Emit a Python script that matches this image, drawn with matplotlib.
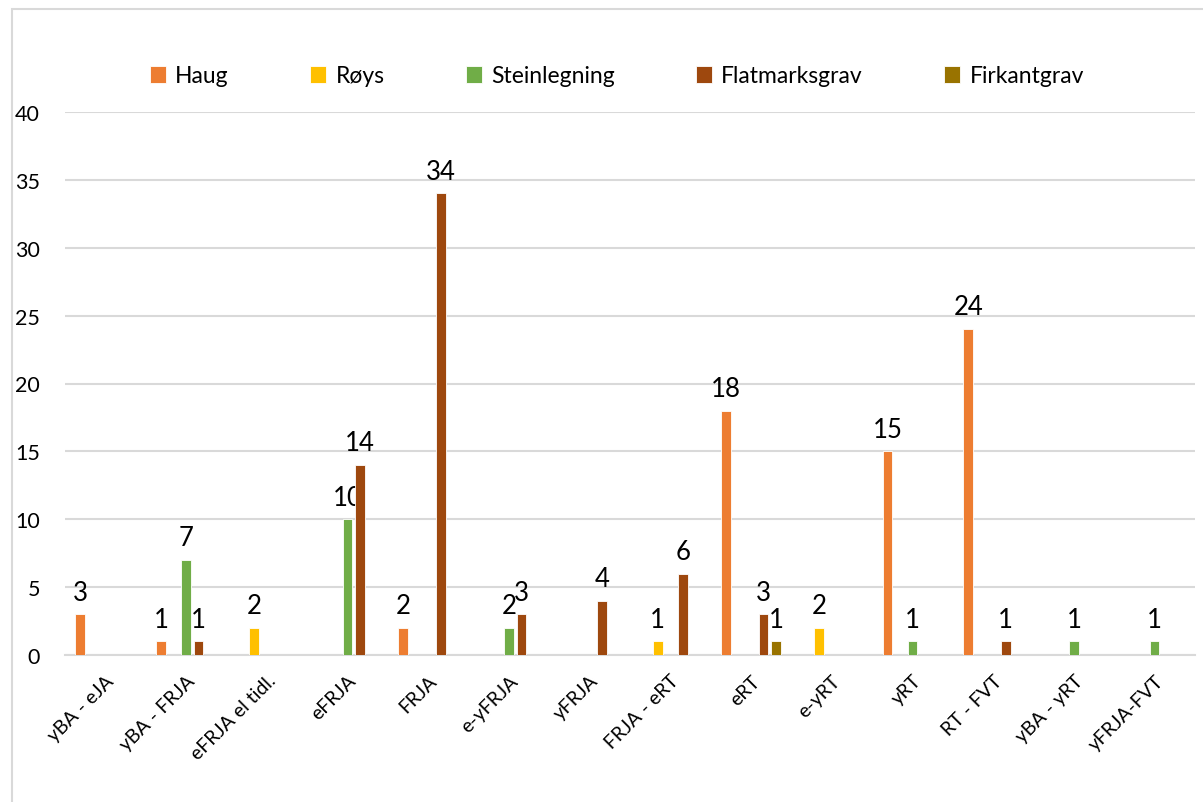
import matplotlib
matplotlib.use("Agg")
import matplotlib.pyplot as plt
import numpy as np
from matplotlib.patches import Rectangle

plt.rcParams['font.family'] = ['Lato', 'DejaVu Sans']

categories = ["yBA - eJA", "yBA - FRJA", "eFRJA el tidl.", "eFRJA", "FRJA", "e-yFRJA",
              "yFRJA", "FRJA - eRT", "eRT", "e-yRT", "yRT", "RT - FVT", "yBA - yRT", "yFRJA-FVT"]
series_names = ["Haug", "Røys", "Steinlegning", "Flatmarksgrav", "Firkantgrav"]
haug = [3, 1, None, None, 2, None, None, None, 18, None, 15, 24, None, None]
roys = [None, None, 2, None, None, None, None, 1, None, 2, None, None, None, None]
steinlegning = [None, 7, None, 10, None, 2, None, None, None, None, 1, None, 1, 1]
flatmarksgrav = [None, 1, None, 14, 34, 3, 4, 6, 3, None, None, 1, None, None]
firkantgrav = [None, None, None, None, None, None, None, None, 1, None, None, None, None, None]
colors = ["#ED7D31", "#FFC000", "#70AD47", "#9E480E", "#997300"]
yticks = [0, 5, 10, 15, 20, 25, 30, 35, 40]

all_series = [haug, roys, steinlegning, flatmarksgrav, firkantgrav]

fig = plt.figure(figsize=(12.03, 8.03), dpi=100)
ax = fig.add_axes([65/1203, 1-656/803, (1195-65)/1203, (656-113)/803])

fig.patches.append(Rectangle((12/1203, -0.05), 1.2, 1-10/803+0.05, transform=fig.transFigure,
                             fill=False, edgecolor="#d9d9d9", linewidth=1.5, zorder=0))

x = np.arange(len(categories))
step = 0.155
width = 0.12
for i, (name, vals, c) in enumerate(zip(series_names, all_series, colors)):
    xs = x + (i - 2) * step
    v = np.array([np.nan if a is None else a for a in vals], dtype=float)
    ax.bar(xs, np.nan_to_num(v), width=width, color=c, label=name, zorder=3,
           edgecolor="white", linewidth=0.6)
    for xi, vi in zip(xs, v):
        if not np.isnan(vi):
            ax.annotate(f"{int(vi)}", (xi, vi), xytext=(0, 7), textcoords="offset points",
                        ha="center", va="bottom", fontsize=18.5, color="black")

ax.set_xlim(-0.5, len(categories) - 0.5)
ax.set_ylim(0, 40)
ax.set_yticks(yticks)
ax.tick_params(axis='y', length=0, labelsize=15.5, pad=18)
ax.grid(axis='y', color="#d9d9d9", linewidth=1.5, zorder=0)
ax.set_axisbelow(True)
for s in ["left", "right", "top"]:
    ax.spines[s].set_visible(False)
ax.spines["bottom"].set_color("#d9d9d9")
ax.spines["bottom"].set_linewidth(1.5)
ax.set_xticks(x)
ax.set_xticklabels(categories, rotation=45, ha="right", rotation_mode="anchor", fontsize=14)
ax.tick_params(axis='x', length=0, pad=12)

fig.legend(loc="center", bbox_to_anchor=(617/1203, 1-77/803), ncol=5, frameon=False,
           fontsize=16.5, handlelength=0.7, handleheight=0.7, columnspacing=3.55, handletextpad=0.4)

fig.savefig("out.png", dpi=100, facecolor="white")
